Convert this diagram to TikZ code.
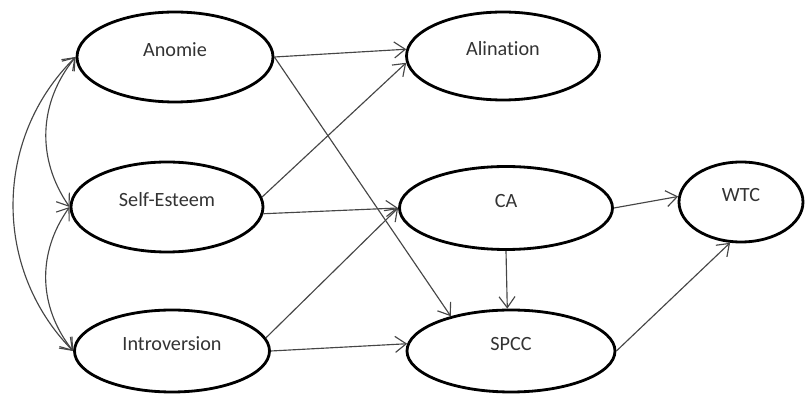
\documentclass[tikz,border=0pt]{standalone}
\usepackage{fontspec}
\setmainfont{Carlito}[Ligatures=NoCommon]
\usepackage{tikz}
\usetikzlibrary{arrows.meta, positioning, shapes.geometric}
\definecolor{mygray}{RGB}{70,70,70}

\begin{document}
\begin{tikzpicture}[
    latent/.style={ellipse, draw, line width=1.6pt, inner sep=0pt,
                   font=\fontsize{11.5}{14}\selectfont, text=black!80,
                   text height=0.3cm, text depth=0.3cm},
    link/.style={-{Straight Barb[length=2.2mm, width=3.2mm]}, mygray, line width=0.65pt},
    covar/.style={{Straight Barb[length=2.2mm, width=3.2mm]}-{Straight Barb[length=2.2mm, width=3.2mm]},
                  mygray, line width=0.65pt}
  ]
    \useasboundingbox (0,0) rectangle (16.1,7.88);

    % Predictors
    \node[latent, minimum width=3.92cm, minimum height=1.80cm] (anomie) at (3.50,6.74) {Anomie};
    \node[latent, minimum width=3.84cm, minimum height=1.80cm] (selfesteem) at (3.34,3.74) {Self-Esteem};
    \node[latent, minimum width=3.90cm, minimum height=1.64cm] (introversion) at (3.44,0.86) {Introversion};

    % Outcomes
    \node[latent, minimum width=3.86cm, minimum height=1.76cm] (alination) at (10.06,6.76) {Alination};
    \node[latent, minimum width=4.26cm, minimum height=1.66cm] (ca) at (10.12,3.72) {CA};
    \node[latent, minimum width=4.16cm, minimum height=1.64cm] (spcc) at (10.22,0.86) {SPCC};
    \node[latent, minimum width=2.48cm, minimum height=1.60cm] (wtc) at (14.82,3.84) {WTC};

    % Covariances among predictors
    \draw[covar] (anomie.west) to[bend right=37] (selfesteem.west);
    \draw[covar] (selfesteem.west) to[bend right=37] (introversion.west);
    \draw[covar] (anomie.west) to[bend right=45] (introversion.west);

    % Paths
    \draw[link] (anomie.east) -- (alination.176);
    \draw[link] (anomie.east) -- (spcc.150);
    \draw[link] (selfesteem.6) -- (alination.184);
    \draw[link] (selfesteem.-4) -- (ca.west);
    \draw[link] (introversion.8) -- (ca.west);
    \draw[link] (introversion.east) -- (spcc.176);
    \draw[link] (ca.south) -- (spcc.95);
    \draw[link] (ca.east) -- (wtc.175);
    \draw[link] (spcc.east) -- (wtc.-105);
  \end{tikzpicture}
\end{document}
